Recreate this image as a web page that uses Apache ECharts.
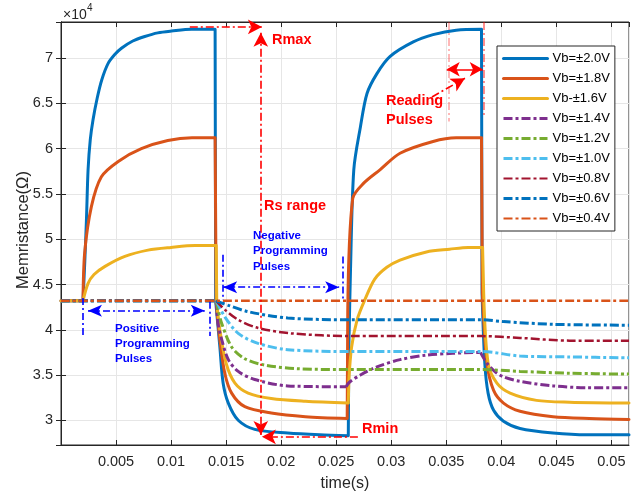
<!DOCTYPE html>
<html>
<head>
<meta charset="utf-8">
<script src="https://cdn.jsdelivr.net/npm/echarts@6/dist/echarts.min.js"></script>
<style>
  html, body { margin: 0; padding: 0; background: #fff; }
  #myChart { width: 643px; height: 491px; }
</style>
</head>
<body>
<div id="myChart"></div>
<script>
// memristance in units of 1e4 ohm, time in seconds
// each curve is kept as pieces between the pulse edges
var legendNames = ['Vb=±2.0V', 'Vb=±1.8V', 'Vb-±1.6V', 'Vb=±1.4V', 'Vb=±1.2V', 'Vb=±1.0V', 'Vb=±0.8V', 'Vb=±0.6V', 'Vb=±0.4V']
var colors = ['#0072BD', '#D95319', '#EDB120', '#7E2F8E', '#77AC30', '#4DBEEE', '#A2142F', '#0072BD', '#D95319']

var vb20 = [
  [[0, 4.32], [0.002, 4.32]],
  [[0.002, 4.32], [0.00216, 4.75], [0.00231, 5.21], [0.00246, 5.77], [0.00266, 6.1], [0.00291, 6.32], [0.00329, 6.56],
    [0.0037, 6.76], [0.00427, 6.94], [0.00488, 7.04], [0.00549, 7.11], [0.00652, 7.19], [0.00761, 7.24],
    [0.00879, 7.28], [0.01004, 7.3], [0.01186, 7.32], [0.014, 7.32]],
  [[0.014, 7.32], [0.01405, 4.32]],
  [[0.01405, 4.32], [0.01443, 3.81], [0.01473, 3.41], [0.0152, 3.19], [0.0161, 3.0], [0.0176, 2.9], [0.0206, 2.86],
    [0.0235, 2.84], [0.0261, 2.83]],
  [[0.0261, 2.83], [0.02615, 3.8]],
  [[0.02615, 3.8], [0.0263, 4.66], [0.0266, 5.77], [0.0272, 6.24], [0.0278, 6.61], [0.0287, 6.83], [0.0299, 7.02],
    [0.032, 7.18], [0.0338, 7.26], [0.0359, 7.31], [0.0382, 7.32]],
  [[0.0382, 7.32], [0.03825, 4.4]],
  [[0.03825, 4.4], [0.0385, 3.63], [0.0388, 3.3], [0.0393, 3.11], [0.0402, 2.99], [0.0417, 2.91], [0.0447, 2.86],
    [0.0478, 2.84], [0.0516, 2.84]]
]

var vb18 = [
  [[0, 4.32], [0.002, 4.32]],
  [[0.002, 4.32], [0.00215, 4.85], [0.00276, 5.36], [0.00367, 5.69], [0.0052, 5.86], [0.0073, 6.0], [0.0097, 6.09],
    [0.0119, 6.12], [0.014, 6.12]],
  [[0.014, 6.12], [0.0141, 4.3]],
  [[0.0141, 4.3], [0.01443, 3.89], [0.01488, 3.52], [0.0155, 3.3], [0.0167, 3.15], [0.0191, 3.08], [0.0222, 3.04],
    [0.026, 3.02]],
  [[0.026, 3.02], [0.02605, 4.2]],
  [[0.02605, 4.2], [0.0265, 5.45], [0.0275, 5.62], [0.029, 5.77], [0.0308, 5.95], [0.0338, 6.08], [0.0359, 6.12],
    [0.0382, 6.12]],
  [[0.0382, 6.12], [0.03828, 4.4]],
  [[0.03828, 4.4], [0.0387, 3.63], [0.0393, 3.33], [0.0402, 3.19], [0.0417, 3.1], [0.0447, 3.04], [0.048, 3.02],
    [0.0516, 3.01]]
]

var vb16 = [
  [[0, 4.32], [0.002, 4.32]],
  [[0.002, 4.32], [0.00245, 4.51], [0.003, 4.61], [0.004, 4.7], [0.0058, 4.81], [0.0079, 4.88], [0.01, 4.91],
    [0.0122, 4.93], [0.0141, 4.93]],
  [[0.0141, 4.93], [0.01415, 4.3]],
  [[0.01415, 4.3], [0.01443, 4.0], [0.015, 3.63], [0.0158, 3.41], [0.017, 3.3], [0.0191, 3.24], [0.0222, 3.21],
    [0.0261, 3.19]],
  [[0.0261, 3.19], [0.02615, 3.45]],
  [[0.02615, 3.45], [0.0264, 3.81], [0.0269, 4.11], [0.0276, 4.33], [0.0285, 4.56], [0.0296, 4.69], [0.0308, 4.77],
    [0.0332, 4.86], [0.0353, 4.89], [0.037, 4.91], [0.0383, 4.91]],
  [[0.0383, 4.91], [0.0384, 4.4]],
  [[0.0384, 4.4], [0.0388, 3.63], [0.0396, 3.41], [0.0408, 3.3], [0.0432, 3.22], [0.0462, 3.2], [0.0516, 3.19]]
]

var vb14 = [
  [[0, 4.32], [0.0141, 4.32]],
  [[0.0141, 4.32], [0.01427, 4.07], [0.0146, 3.89], [0.0152, 3.67], [0.0161, 3.54], [0.0176, 3.45], [0.0206, 3.38],
    [0.0259, 3.37]],
  [[0.0259, 3.37], [0.0262, 3.42], [0.0272, 3.5], [0.0287, 3.59], [0.0308, 3.67], [0.0332, 3.72], [0.0356, 3.74],
    [0.0381, 3.75]],
  [[0.0381, 3.75], [0.0387, 3.63], [0.0395, 3.53], [0.0402, 3.48], [0.0417, 3.43], [0.0447, 3.38], [0.0478, 3.36],
    [0.0516, 3.36]]
]

var vb12 = [
  [[0, 4.32], [0.0141, 4.32]],
  [[0.0141, 4.32], [0.0143, 4.2], [0.0146, 4.07], [0.0155, 3.81], [0.0167, 3.68], [0.0185, 3.61], [0.0215, 3.57],
    [0.0264, 3.56], [0.0382, 3.56], [0.0417, 3.54], [0.0462, 3.52], [0.0516, 3.51]]
]

var vb10 = [
  [[0, 4.32], [0.0141, 4.32]],
  [[0.0141, 4.32], [0.0149, 4.14], [0.0161, 3.96], [0.0179, 3.85], [0.0206, 3.78], [0.0264, 3.76], [0.0382, 3.76],
    [0.0417, 3.71], [0.0462, 3.7], [0.0516, 3.69]]
]

var vb08 = [
  [[0, 4.32], [0.0141, 4.32]],
  [[0.0141, 4.32], [0.0149, 4.22], [0.0161, 4.11], [0.0179, 4.02], [0.0209, 3.96], [0.0264, 3.93], [0.0382, 3.93],
    [0.0417, 3.91], [0.0462, 3.88], [0.0516, 3.88]]
]

var vb06 = [
  [[0, 4.32], [0.0141, 4.32]],
  [[0.0141, 4.32], [0.0152, 4.27], [0.017, 4.2], [0.0206, 4.13], [0.0264, 4.11], [0.0382, 4.11], [0.0402, 4.09],
    [0.0447, 4.06], [0.0516, 4.05]]
]

var vb04 = [
  [[0, 4.32], [0.0516, 4.32]]
]

var allData = [vb20, vb18, vb16, vb14, vb12, vb10, vb08, vb06, vb04]

// join the pieces with gaps so every piece is smoothed on its own
function joinPieces (pieces) {
  var out = []
  pieces.forEach(function (p, k) {
    if (k > 0) out.push(null)
    out = out.concat(p)
  })
  return out
}

var myChart = echarts.init(document.getElementById('myChart'))
var fontFamily = '"Liberation Sans", Arial, Helvetica, sans-serif'
var dashDot = [9, 3, 3, 3]
var red = '#FF0000'
var blue = '#0000FF'

// arrows in data coordinates
function arrow (from, to, color, symFrom, symTo, type, size) {
  return [
    { coord: from, symbol: symFrom, symbolSize: size, lineStyle: { color: color, type: type, width: 1.6 }, itemStyle: { color: color } },
    { coord: to, symbol: symTo, symbolSize: size }
  ]
}
var redDash = [8, 3, 2, 3]
var blueDash = [7, 3, 2, 3]
var notes = [
  arrow([0.0117, 7.346], [0.01825, 7.346], red, 'none', 'arrow', redDash, [11, 14]),
  arrow([0.01815, 7.28], [0.01815, 2.838], red, 'arrow', 'arrow', redDash, [11, 14]),
  arrow([0.02697, 2.817], [0.01825, 2.817], red, 'none', 'arrow', redDash, [11, 14]),
  arrow([0.03518, 7.40], [0.03518, 6.30], 'rgba(255,0,0,0.35)', 'none', 'none', redDash, 1),
  arrow([0.03836, 7.40], [0.03836, 6.34], 'rgba(255,0,0,0.55)', 'none', 'none', redDash, 1),
  arrow([0.03504, 6.878], [0.03831, 6.878], red, 'arrow', 'arrow', 'solid', [11, 13]),
  arrow([0.0337, 6.572], [0.0367, 6.779], red, 'none', 'arrow', redDash, [11, 14]),
  arrow([0.00245, 4.211], [0.01306, 4.211], blue, 'arrow', 'arrow', blueDash, [9, 14]),
  arrow([0.002, 4.35], [0.002, 3.92], blue, 'none', 'none', blueDash, 1),
  arrow([0.01352, 4.31], [0.01352, 3.93], blue, 'none', 'none', blueDash, 1),
  arrow([0.01473, 4.47], [0.02527, 4.47], blue, 'arrow', 'arrow', blueDash, [9, 14]),
  arrow([0.0147, 4.83], [0.0147, 4.33], blue, 'none', 'none', blueDash, 1),
  arrow([0.02564, 4.81], [0.02564, 4.33], blue, 'none', 'none', blueDash, 1)
]

function lineWidth (i) {
  return (i === 6 || i === 8) ? 2.5 : 3
}

var series = allData.map(function (d, i) {
  var s = {
    name: legendNames[i],
    type: 'line',
    data: joinPieces(d),
    connectNulls: false,
    symbol: 'none',
    smooth: 0.3,
    animation: false,
    lineStyle: {
      color: colors[i],
      width: lineWidth(i),
      type: i < 3 ? 'solid' : dashDot,
      cap: i < 3 ? 'round' : 'butt'
    },
    itemStyle: { color: colors[i] }
  }
  if (i === 8) {
    s.markLine = {
      silent: true,
      animation: false,
      label: { show: false },
      data: notes
    }
  }
  return s
})

function txt (str, x, y, color, size, extra) {
  return {
    type: 'text',
    left: x,
    top: y,
    z: 100,
    style: {
      text: str,
      fill: color,
      font: (extra || '') + ' ' + size + 'px ' + fontFamily
    }
  }
}

var option = {
  animation: false,
  textStyle: { fontFamily: fontFamily },
  grid: {
    left: 61,
    top: 22,
    right: 14,
    bottom: 46,
    outerBoundsMode: 'none',
    containLabel: false,
    show: true,
    borderColor: '#262626',
    borderWidth: 1
  },
  legend: {
    orient: 'vertical',
    left: 497,
    top: 46,
    padding: [6, 5, 6, 5],
    itemWidth: 44,
    itemHeight: 14,
    itemGap: 7,
    backgroundColor: '#fff',
    borderColor: '#262626',
    borderWidth: 1,
    itemStyle: { opacity: 0 },
    data: legendNames.map(function (n, i) {
      return { name: n, lineStyle: { width: lineWidth(i) === 3 ? 3 : 2 } }
    }),
    textStyle: { fontSize: 13, color: '#000', fontFamily: fontFamily }
  },
  xAxis: [
    {
      type: 'value',
      min: 0,
      max: 0.0516,
      interval: 0.005,
      name: 'time(s)',
      nameLocation: 'middle',
      nameGap: 31,
      nameTextStyle: { fontSize: 16, color: '#262626' },
      axisLine: { lineStyle: { color: '#262626' } },
      axisTick: { inside: true, length: 5, lineStyle: { color: '#262626' } },
      axisLabel: { showMinLabel: false, showMaxLabel: false, fontSize: 14.5, color: '#262626', margin: 9 },
      splitLine: { lineStyle: { color: '#e6e6e6' } }
    },
    {
      type: 'value',
      position: 'top',
      min: 0,
      max: 0.0516,
      interval: 0.005,
      axisLine: { lineStyle: { color: '#262626' } },
      axisTick: { inside: true, length: 5, lineStyle: { color: '#262626' } },
      axisLabel: { show: false },
      splitLine: { show: false }
    }
  ],
  yAxis: [
    {
      type: 'value',
      min: 2.727,
      max: 7.40,
      splitNumber: 9,
      axisLine: { show: true, lineStyle: { color: '#262626' } },
      axisTick: { show: true, inside: true, length: 5, lineStyle: { color: '#262626' } },
      axisLabel: { showMinLabel: false, showMaxLabel: false, fontSize: 14.5, color: '#262626', margin: 8 },
      splitLine: { lineStyle: { color: '#e6e6e6' } }
    },
    {
      type: 'value',
      position: 'right',
      min: 2.727,
      max: 7.40,
      splitNumber: 9,
      axisLine: { show: true, lineStyle: { color: '#262626' } },
      axisTick: { show: true, inside: true, length: 5, lineStyle: { color: '#262626' } },
      axisLabel: { show: false },
      splitLine: { show: false }
    }
  ],
  graphic: [
    txt('×10', 63, 8, '#262626', 14),
    txt('4', 87, 3, '#262626', 10),
    {
      type: 'text',
      x: 15,
      y: 230,
      rotation: Math.PI / 2,
      style: {
        text: 'Memristance(Ω)',
        fill: '#262626',
        font: '16.5px ' + fontFamily,
        align: 'center',
        verticalAlign: 'top'
      }
    },
    txt('Rmax', 272, 32, red, 14.5, 'bold'),
    txt('Rs range', 264, 198, red, 14.5, 'bold'),
    txt('Reading', 386, 93, red, 14.5, 'bold'),
    txt('Pulses', 386, 112, red, 14.5, 'bold'),
    txt('Rmin', 362, 421, red, 14.5, 'bold'),
    txt('Positive', 115, 323, blue, 11.5, 'bold'),
    txt('Programming', 115, 338, blue, 11.5, 'bold'),
    txt('Pulses', 115, 353, blue, 11.5, 'bold'),
    txt('Negative', 253, 230, blue, 11.5, 'bold'),
    txt('Programming', 253, 245, blue, 11.5, 'bold'),
    txt('Pulses', 253, 261, blue, 11.5, 'bold')
  ],
  series: series
}

myChart.setOption(option)
</script>
</body>
</html>
